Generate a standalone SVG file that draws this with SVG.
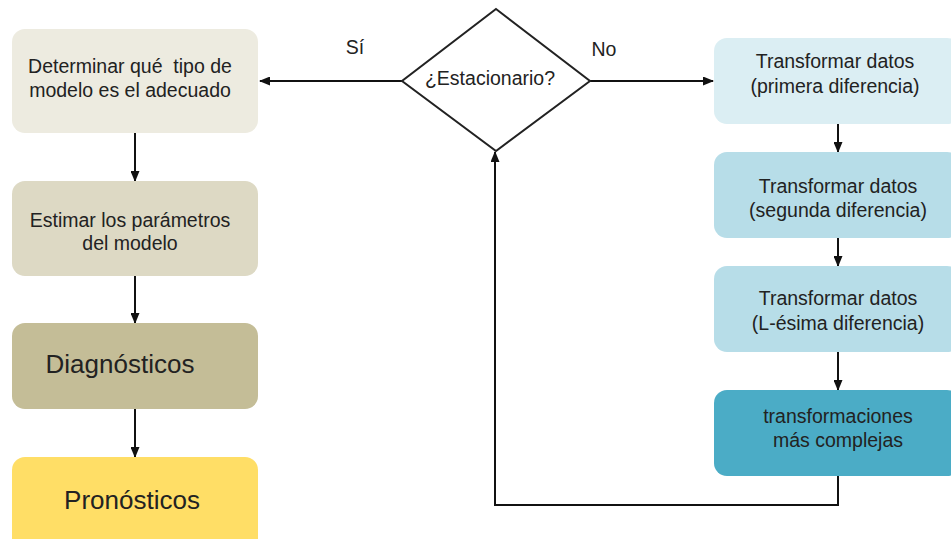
<svg xmlns="http://www.w3.org/2000/svg" width="951" height="539" viewBox="0 0 951 539">
<defs>
<marker id="ah" markerUnits="userSpaceOnUse" markerWidth="11" markerHeight="9" refX="10" refY="4.5" orient="auto">
<path d="M0,0 L11,4.5 L0,9 z" fill="#111"/>
</marker>
<style>
.t{font-family:"Liberation Sans",Arial,sans-serif;font-size:19.5px;fill:#222;text-anchor:middle}
.big{font-size:26px}
.c{stroke:#111;stroke-width:2;fill:none}
</style>
</defs>
<rect width="951" height="539" fill="#fff"/>
<g id="connectors">
<path class="c" d="M402,81 L260,81" marker-end="url(#ah)"/>
<path class="c" d="M590,81 L713,81" marker-end="url(#ah)"/>
<path class="c" d="M135,133 L135,181" marker-end="url(#ah)"/>
<path class="c" d="M135,276 L135,323" marker-end="url(#ah)"/>
<path class="c" d="M135,409 L135,457" marker-end="url(#ah)"/>
<path class="c" d="M838,124 L838,152" marker-end="url(#ah)"/>
<path class="c" d="M838,238 L838,266" marker-end="url(#ah)"/>
<path class="c" d="M838,352 L838,390" marker-end="url(#ah)"/>
<path class="c" d="M838,476 L838,505 L495,505 L495,152" marker-end="url(#ah)" stroke="#333"/>
<text class="t" x="355" y="54">Sí</text>
<text class="t" x="604" y="56">No</text>
</g>
<g id="decision">
<polygon points="496,9 590,81 496,151 402,81" fill="#fff" stroke="#222" stroke-width="2"/>
<text class="t" x="490" y="85">¿Estacionario?</text>
</g>
<g id="determinar">
<rect x="12" y="29" width="246" height="104" rx="13" fill="#EDEBE0"/>
<text class="t" x="130" y="73" xml:space="preserve">Determinar qué  tipo de</text>
<text class="t" x="130" y="97">modelo es el adecuado</text>
</g>
<g id="estimar">
<rect x="12" y="181" width="246" height="95" rx="13" fill="#DDD9C4"/>
<text class="t" x="130" y="227">Estimar los parámetros</text>
<text class="t" x="130" y="250">del modelo</text>
</g>
<g id="diagnosticos">
<rect x="12" y="323" width="246" height="86" rx="13" fill="#C4BD97"/>
<text class="t big" x="120" y="373">Diagnósticos</text>
</g>
<g id="pronosticos">
<rect x="12" y="457" width="246" height="95" rx="13" fill="#FFDE66"/>
<text class="t big" x="132" y="509">Pronósticos</text>
</g>
<g id="primera">
<rect x="714" y="38" width="246" height="86" rx="13" fill="#DBEEF3"/>
<text class="t" x="835" y="68">Transformar datos</text>
<text class="t" x="835" y="93">(primera diferencia)</text>
</g>
<g id="segunda">
<rect x="714" y="152" width="246" height="86" rx="13" fill="#B7DDE8"/>
<text class="t" x="838" y="193">Transformar datos</text>
<text class="t" x="838" y="217">(segunda diferencia)</text>
</g>
<g id="lesima">
<rect x="714" y="266" width="246" height="86" rx="13" fill="#B7DDE8"/>
<text class="t" x="838" y="305">Transformar datos</text>
<text class="t" x="838" y="330">(L-ésima diferencia)</text>
</g>
<g id="complejas">
<rect x="714" y="390" width="246" height="86" rx="13" fill="#4BACC6"/>
<text class="t" x="838" y="423">transformaciones</text>
<text class="t" x="838" y="447">más complejas</text>
</g>
</svg>
